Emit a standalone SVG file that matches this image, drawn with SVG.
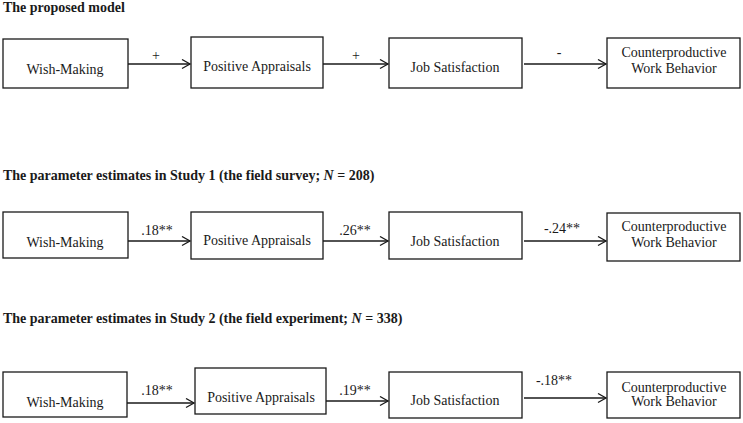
<svg xmlns="http://www.w3.org/2000/svg" width="743" height="423" viewBox="0 0 743 423">
<defs>
<marker id="ah" markerWidth="12" markerHeight="12" refX="9" refY="5" orient="auto" markerUnits="userSpaceOnUse">
<path d="M1,0.5 L9,5 L1,9.5" fill="none" stroke="#1a1a1a" stroke-width="1.3"/>
</marker>
</defs>
<style>
text{font-family:"Liberation Serif","Times New Roman",serif;fill:#1a1a1a;font-size:14px}
.t{font-weight:bold}
.c{text-anchor:middle}
rect{fill:#fff;stroke:#1a1a1a;stroke-width:1.3}
.e line{stroke:#1a1a1a;stroke-width:1.3;marker-end:url(#ah)}
</style>
<rect x="0" y="0" width="743" height="423" style="fill:#fff;stroke:none"/>
<text class="t" x="3" y="12">The proposed model</text>
<text class="t" x="3" y="180">The parameter estimates in Study 1 (the field survey; <tspan font-style="italic">N</tspan> = 208)</text>
<text class="t" x="3" y="323">The parameter estimates in Study 2 (the field experiment; <tspan font-style="italic">N</tspan> = 338)</text>

<g id="r1-wish"><rect x="3" y="39" width="125" height="49"/><text class="c" x="65" y="74">Wish-Making</text></g>
<g id="r1-pos"><rect x="191" y="37" width="132" height="51"/><text class="c" x="257" y="71">Positive Appraisals</text></g>
<g id="r1-job"><rect x="389" y="38" width="133" height="50"/><text class="c" x="455" y="72">Job Satisfaction</text></g>
<g id="r1-cwb"><rect x="607" y="38" width="133" height="50"/><text class="c" x="674" y="57">Counterproductive</text><text class="c" x="674" y="73">Work Behavior</text></g>

<g id="r2-wish"><rect x="3" y="212" width="125" height="46"/><text class="c" x="65" y="247">Wish-Making</text></g>
<g id="r2-pos"><rect x="191" y="212" width="132" height="47"/><text class="c" x="257" y="245">Positive Appraisals</text></g>
<g id="r2-job"><rect x="389" y="212" width="133" height="47"/><text class="c" x="455" y="246">Job Satisfaction</text></g>
<g id="r2-cwb"><rect x="607" y="213" width="133" height="48"/><text class="c" x="674" y="231">Counterproductive</text><text class="c" x="674" y="247">Work Behavior</text></g>

<g id="r3-wish"><rect x="3" y="372" width="124" height="45"/><text class="c" x="65" y="407">Wish-Making</text></g>
<g id="r3-pos"><rect x="195" y="368" width="131" height="46"/><text class="c" x="261" y="402">Positive Appraisals</text></g>
<g id="r3-job"><rect x="389" y="372" width="133" height="46"/><text class="c" x="455" y="405">Job Satisfaction</text></g>
<g id="r3-cwb"><rect x="607" y="372" width="133" height="46"/><text class="c" x="674" y="392">Counterproductive</text><text class="c" x="674" y="406">Work Behavior</text></g>

<g id="connectors" class="e">
<line x1="128" y1="64" x2="190" y2="64"/>
<line x1="323" y1="64" x2="388" y2="64"/>
<line x1="524" y1="64" x2="606" y2="64"/>
<line x1="128" y1="241" x2="190" y2="241"/>
<line x1="323" y1="241" x2="388" y2="241"/>
<line x1="524" y1="241" x2="606" y2="241"/>
<line x1="127" y1="403" x2="194" y2="403"/>
<line x1="326" y1="401" x2="388" y2="401"/>
<line x1="524" y1="398" x2="606" y2="398"/>
</g>
<g id="labels">
<text class="c" x="156" y="60">+</text>
<text class="c" x="356" y="60">+</text>
<text class="c" x="559" y="57">-</text>
<text class="c" x="157" y="235">.18**</text>
<text class="c" x="355" y="235">.26**</text>
<text class="c" x="562" y="233">-.24**</text>
<text class="c" x="157" y="395">.18**</text>
<text class="c" x="355" y="395">.19**</text>
<text class="c" x="554" y="385">-.18**</text>
</g>
</svg>
